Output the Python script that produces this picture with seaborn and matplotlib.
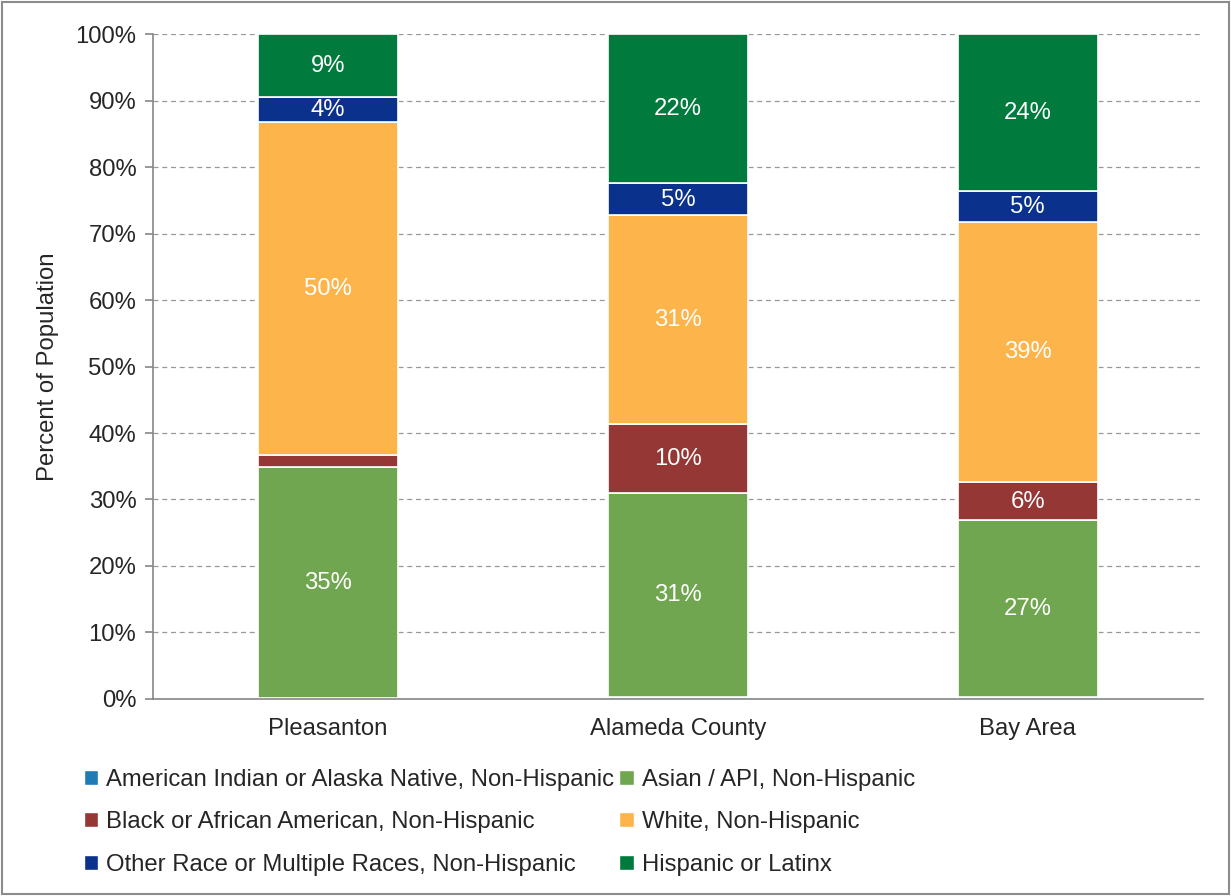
import matplotlib
matplotlib.use("Agg")
import matplotlib.pyplot as plt
from matplotlib.patches import Patch, Rectangle
import seaborn as sns
import numpy as np

# data (percent of population)
regions = ["Pleasanton", "Alameda County", "Bay Area"]
groups = ["American Indian or Alaska Native, Non-Hispanic",
          "Asian / API, Non-Hispanic",
          "Black or African American, Non-Hispanic",
          "White, Non-Hispanic",
          "Other Race or Multiple Races, Non-Hispanic",
          "Hispanic or Latinx"]
american_indian = [0.2, 0.3, 0.3]
asian = [34.7, 30.7, 26.6]
black = [1.8, 10.35, 5.7]
white = [50.1, 31.4, 39.2]
other = [3.8, 4.8, 4.6]
hispanic = [9.4, 22.45, 23.6]
colors = ["#1F7BB6", "#70A64F", "#953735", "#FDB44B", "#0A318C", "#007A3D"]

sns.set_style("white")
plt.rcParams['font.family'] = ['Liberation Sans', 'DejaVu Sans']
fs = 17.2

fig = plt.figure(figsize=(12.31, 8.96), dpi=100)
ax = fig.add_axes([0.1243, 0.2199, 0.8527, 0.7421])

series = [american_indian, asian, black, white, other, hispanic]
bottom = np.zeros(len(regions))
for name, vals, col in zip(groups, series, colors):
    sns.barplot(x=regions, y=vals, bottom=bottom, color=col, saturation=1,
                width=0.4, edgecolor="white", linewidth=1.2, ax=ax)
    cont = ax.containers[-1]
    labels = ["%d%%" % round(v) if v >= 3 else "" for v in vals]
    txts = ax.bar_label(cont, labels=labels, label_type="center", color="white", fontsize=fs)
    for t in txts:
        t.set_y(t.get_position()[1] - 0.4)
    bottom = bottom + np.array(vals)

ax.set_ylim(0, 100)
ax.set_xlim(-0.5, 2.5)
ax.set_yticks(np.arange(0, 101, 10))
ax.set_yticklabels(["%d%%" % v for v in range(0, 101, 10)], fontsize=fs)
ax.yaxis.grid(True, linestyle=(0, (4, 3)), color="#999999", linewidth=0.9)
ax.set_axisbelow(True)
ax.set_xticks([0, 1, 2])
ax.set_xticklabels(regions, fontsize=fs)
ax.set_xticks([-0.5, 0.5, 1.5, 2.5], minor=True)
ax.tick_params(axis="x", which="major", length=0, pad=14)
ax.tick_params(axis="x", which="minor", length=6, color="#868686", width=1.2)
ax.tick_params(axis="y", length=6, color="#868686", width=1.2, left=True, pad=6)
for s in ["top", "right"]:
    ax.spines[s].set_visible(False)
for s in ["left", "bottom"]:
    ax.spines[s].set_color("#868686")
    ax.spines[s].set_linewidth(1.2)
ax.set_ylabel("Percent of Population", fontsize=fs, labelpad=12)

order = [0, 2, 4, 1, 3, 5]
handles = [Patch(facecolor=colors[i], label=groups[i]) for i in order]
fig.legend(handles=handles, loc="upper left", bbox_to_anchor=(0.068, 0.142), ncol=2,
           frameon=False, fontsize=fs, handlelength=0.6, handleheight=0.6,
           handletextpad=0.35, columnspacing=0.2, labelspacing=0.86,
           borderaxespad=0, borderpad=0, bbox_transform=fig.transFigure)

fig.patches.append(Rectangle((0.002, 0.002), 0.996, 0.996, transform=fig.transFigure,
                             fill=False, edgecolor="#8c8c8c", linewidth=1.5))

fig.savefig("out.png", dpi=100)
